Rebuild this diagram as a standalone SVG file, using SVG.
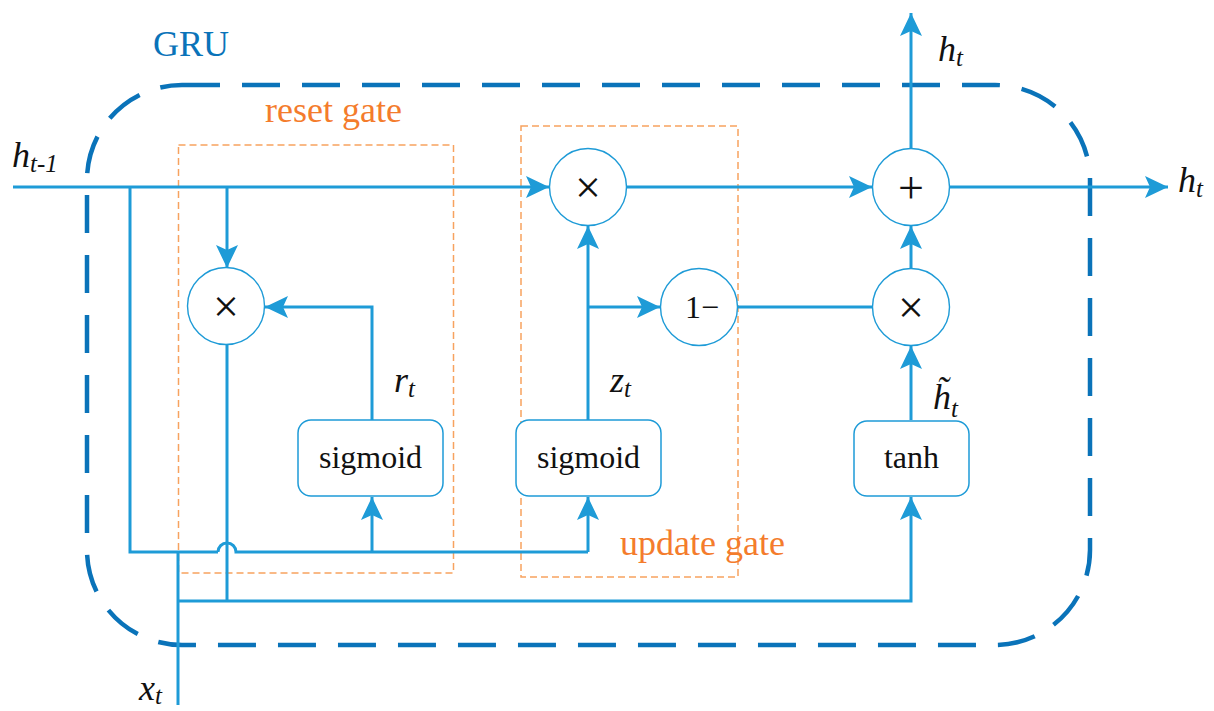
<svg xmlns="http://www.w3.org/2000/svg" width="1214" height="711" viewBox="0 0 1214 711">
<defs>
<marker id="ah" markerUnits="userSpaceOnUse" markerWidth="24" markerHeight="24" refX="23" refY="11" orient="auto">
<path d="M0,0 L23,11 L0,22 L5,11 z" fill="#1e9bd7"/>
</marker>
<style>
.c{fill:none;stroke:#1e9bd7;stroke-width:3}
.ca{fill:none;stroke:#1e9bd7;stroke-width:3;marker-end:url(#ah)}
.op{fill:#fff;stroke:#1e9bd7;stroke-width:1.4}
.bx{fill:#fff;stroke:#1e9bd7;stroke-width:1.5}
.og{fill:none;stroke:#f7a25f;stroke-width:1.5;stroke-dasharray:7 4}
text{font-family:'Liberation Serif','Times New Roman',serif}
.t{fill:#111}
.s{fill:#111;font-size:46px;text-anchor:middle}
.i{font-style:italic;fill:#111}
.ol{fill:#f47c2c;font-size:36px}
</style>
</defs>
<rect width="1214" height="711" fill="#fff"/>

<g id="gru-frame">
<rect x="87" y="85" width="1003" height="560" rx="95" ry="95" fill="none" stroke="#0a73b9" stroke-width="4.5" stroke-dasharray="38 22"/>
<text x="153" y="56" font-size="36" fill="#0a73b9">GRU</text>
</g>

<g id="reset-gate">
<rect class="og" x="178.5" y="145" width="275" height="428"/>
<text class="ol" x="265" y="122">reset gate</text>
</g>
<g id="update-gate">
<rect class="og" x="521" y="126" width="217" height="451"/>
<text class="ol" x="620" y="555">update gate</text>
</g>

<g id="connectors">
<line class="ca" x1="13" y1="187" x2="549" y2="187"/>
<polyline class="c" points="130,187 130,552 218,552"/>
<path class="c" d="M218,552 A9,9 0 0 1 236,552 L588,552"/>
<line class="ca" x1="227" y1="187" x2="227" y2="268"/>
<line class="ca" x1="372" y1="552" x2="372" y2="497"/>
<line class="ca" x1="588" y1="552" x2="588" y2="497"/>
<polyline class="ca" points="372,420 372,307 265,307"/>
<line class="c" x1="227" y1="344" x2="227" y2="601"/>
<line class="c" x1="178" y1="705" x2="178" y2="552"/>
<polyline class="ca" points="178,601 911,601 911,497"/>
<line class="ca" x1="588" y1="420" x2="588" y2="226"/>
<line class="ca" x1="588" y1="307" x2="660" y2="307"/>
<line class="c" x1="738" y1="307" x2="873" y2="307"/>
<line class="ca" x1="627" y1="187" x2="872" y2="187"/>
<line class="ca" x1="911" y1="420" x2="911" y2="346"/>
<line class="ca" x1="911" y1="268" x2="911" y2="226"/>
<line class="ca" x1="911" y1="148" x2="911" y2="13"/>
<line class="ca" x1="950" y1="187" x2="1168" y2="187"/>
</g>

<g id="mul-reset">
<circle class="op" cx="226" cy="306" r="38.5"/>
<text class="s" x="226" y="322">×</text>
</g>
<g id="mul-update">
<circle class="op" cx="588" cy="187" r="38.5"/>
<text class="s" x="588" y="203">×</text>
</g>
<g id="one-minus">
<circle class="op" cx="699" cy="307" r="38.5"/>
<text class="t" x="702" y="318" font-size="32" text-anchor="middle">1−</text>
</g>
<g id="mul-cand">
<circle class="op" cx="911" cy="307" r="38.5"/>
<text class="s" x="911" y="323">×</text>
</g>
<g id="add">
<circle class="op" cx="911" cy="187" r="38.5"/>
<text class="s" x="911" y="203">+</text>
</g>

<g id="sigmoid-r">
<rect class="bx" x="298" y="420" width="145" height="76" rx="13"/>
<text class="t" x="370.5" y="468" font-size="32" text-anchor="middle">sigmoid</text>
</g>
<g id="sigmoid-z">
<rect class="bx" x="516" y="420" width="145" height="76" rx="13"/>
<text class="t" x="588.5" y="468" font-size="32" text-anchor="middle">sigmoid</text>
</g>
<g id="tanh">
<rect class="bx" x="854" y="421" width="115" height="75" rx="13"/>
<text class="t" x="911.5" y="468" font-size="32" text-anchor="middle">tanh</text>
</g>

<g id="labels">
<text class="i" x="12" y="167" font-size="36">h<tspan font-size="25" dy="5">t-1</tspan></text>
<text class="i" x="938" y="61" font-size="36">h<tspan font-size="25" dy="5">t</tspan></text>
<text class="i" x="1178" y="192" font-size="36">h<tspan font-size="25" dy="5">t</tspan></text>
<text class="i" x="394" y="392" font-size="36">r<tspan font-size="25" dy="5">t</tspan></text>
<text class="i" x="610" y="392" font-size="36">z<tspan font-size="25" dy="5">t</tspan></text>
<text class="i" x="933" y="409" font-size="36">h̃<tspan font-size="25" dy="8">t</tspan></text>
<text class="i" x="139" y="700" font-size="36">x<tspan font-size="25" dy="4">t</tspan></text>
</g>
</svg>
